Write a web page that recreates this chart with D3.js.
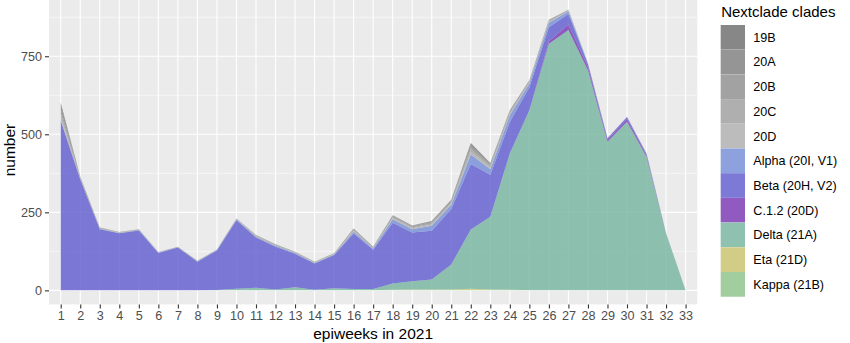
<!DOCTYPE html>
<html>
<head>
<meta charset="utf-8">
<script src="https://cdn.jsdelivr.net/npm/d3@7"></script>
<style>
  html, body { margin: 0; padding: 0; background: #ffffff; }
  svg { display: block; font-family: "Liberation Sans", Arial, Helvetica, sans-serif; }
</style>
</head>
<body>
<svg id="chart" width="850" height="343"></svg>
<script>
// Epidemiological weeks of 2021
const weeks = ["1","2","3","4","5","6","7","8","9","10","11","12","13","14","15","16","17",
               "18","19","20","21","22","23","24","25","26","27","28","29","30","31","32","33"];

// Legend order (top of the stack first)
const clades = ["19B","20A","20B","20C","20D","Alpha (20I, V1)","Beta (20H, V2)",
                "C.1.2 (20D)","Delta (21A)","Eta (21D)","Kappa (21B)"];

const cladeColors = ["#6b6b6b","#7d7d7d","#8d8d8d","#9d9d9d","#aeaeae","#728cd7","#5f5bcf",
                     "#7733b3","#76b4a0","#c8c36b","#8dc388"];

// Weekly sequence counts per clade
const c19B  = [6,1,0,0,0,0,0,0,0,0,0,0,0,0,0,1,1,1,1,1,1,4,1,1,1,1,0,0,0,0,0,0,0];
const c20A  = [14,1,1,1,1,0,0,1,0,0,1,1,1,1,1,2,1,2,2,3,3,7,4,3,1,1,1,0,0,0,0,0,0];
const c20B  = [13,2,1,0,1,1,1,0,1,1,1,2,1,1,1,2,1,3,3,4,4,8,4,3,2,2,1,0,0,0,0,0,0];
const c20C  = [10,1,1,1,0,0,1,0,0,1,1,1,1,1,1,2,1,3,3,3,4,8,5,4,3,3,2,1,0,0,0,0,0];
const c20D  = [12,2,1,1,1,1,0,1,1,1,2,1,1,1,1,3,2,4,3,4,4,10,6,5,3,3,2,1,1,1,1,0,0];
const alpha = [3,1,1,1,1,1,1,1,1,2,3,3,3,2,2,6,4,11,11,16,13,30,18,22,12,14,8,1,0,0,0,0,0];
const beta  = [543,356,196,183,192,120,137,92,127,220,161,137,107,84,106,178,126,195,156,156,178,210,134,100,74,45,33,10,5,7,5,1,0];
const c12   = [0,0,0,0,0,0,0,0,0,0,0,0,0,0,0,0,0,0,0,0,0,0,0,0,0,8,18,10,6,8,5,0,0];
const delta = [0,0,0,0,0,0,0,0,1,5,8,3,10,2,7,4,4,20,26,32,80,190,233,437,577,790,834,705,476,540,428,182,0];
const eta   = [0,0,0,0,0,0,0,0,0,0,0,0,0,0,0,0,0,1,2,2,2,3,2,1,0,0,0,0,0,0,0,0,0];
const kappa = [0,0,0,0,0,0,0,0,0,0,0,0,0,0,0,0,0,1,1,1,1,2,1,1,0,0,0,0,0,0,0,0,0];

const seriesByClade = {
  "19B": c19B, "20A": c20A, "20B": c20B, "20C": c20C, "20D": c20D,
  "Alpha (20I, V1)": alpha, "Beta (20H, V2)": beta, "C.1.2 (20D)": c12,
  "Delta (21A)": delta, "Eta (21D)": eta, "Kappa (21B)": kappa
};

const rows = weeks.map((w, i) => {
  const r = { week: w };
  clades.forEach(c => { r[c] = seriesByClade[c][i]; });
  return r;
});

// Stack from the bottom: last legend entry sits on the baseline
const stackKeys = clades.slice().reverse();
const stacked = d3.stack().keys(stackKeys)(rows);
const color = d3.scaleOrdinal().domain(clades).range(cladeColors);

const svg = d3.select("#chart");
const panel = { left: 49, right: 697.3, top: -4.3, bottom: 304.4 };

const x = d3.scalePoint().domain(weeks).range([panel.left, panel.right]).padding(0.6);
const yMax = d3.max(stacked[stacked.length - 1], d => d[1]);
const y = d3.scaleLinear()
  .domain([-0.05 * yMax, yMax * 1.05])
  .range([panel.bottom, panel.top]);

// Panel background
svg.append("rect")
  .attr("x", panel.left).attr("y", panel.top)
  .attr("width", panel.right - panel.left).attr("height", panel.bottom - panel.top)
  .attr("fill", "#ebebeb");

const grid = svg.append("g");
const majorY = [0, 250, 500, 750];
const minorY = [125, 375, 625, 875];
grid.selectAll(".minor").data(minorY).join("line")
  .attr("x1", panel.left).attr("x2", panel.right)
  .attr("y1", d => y(d)).attr("y2", d => y(d))
  .attr("stroke", "#ffffff").attr("stroke-width", 0.55);
grid.selectAll(".majorY").data(majorY).join("line")
  .attr("x1", panel.left).attr("x2", panel.right)
  .attr("y1", d => y(d)).attr("y2", d => y(d))
  .attr("stroke", "#ffffff").attr("stroke-width", 1.1);
grid.selectAll(".majorX").data(weeks).join("line")
  .attr("x1", d => x(d)).attr("x2", d => x(d))
  .attr("y1", panel.top).attr("y2", panel.bottom)
  .attr("stroke", "#ffffff").attr("stroke-width", 1.1);

// Stacked areas
const area = d3.area()
  .x(d => x(d.data.week))
  .y0(d => y(d[0]))
  .y1(d => y(d[1]));

svg.append("g").selectAll("path").data(stacked).join("path")
  .attr("d", area)
  .attr("fill", d => color(d.key))
  .attr("fill-opacity", 0.8);

// Axes
const yAxis = d3.axisLeft(y).tickValues(majorY).tickSize(4).tickPadding(3);
const gy = svg.append("g").attr("transform", `translate(${panel.left},0)`).call(yAxis);
gy.select(".domain").remove();
gy.selectAll(".tick line").attr("stroke", "#333333").attr("stroke-width", 1.1);
gy.selectAll(".tick text").attr("fill", "#4d4d4d").attr("font-size", "12.6px")
  .attr("font-family", "Liberation Sans, Arial, sans-serif");

const xAxis = d3.axisBottom(x).tickSize(4).tickPadding(3);
const gx = svg.append("g").attr("transform", `translate(0,${panel.bottom})`).call(xAxis);
gx.select(".domain").remove();
gx.selectAll(".tick line").attr("stroke", "#333333").attr("stroke-width", 1.1);
gx.selectAll(".tick text").attr("fill", "#4d4d4d").attr("font-size", "12.6px")
  .attr("font-family", "Liberation Sans, Arial, sans-serif");

// Axis titles
svg.append("text")
  .attr("x", (panel.left + panel.right) / 2).attr("y", 338.5)
  .attr("text-anchor", "middle").attr("font-size", "15.5px").attr("fill", "#000")
  .text("epiweeks in 2021");

svg.append("text")
  .attr("transform", `translate(14.5,${(panel.top + panel.bottom) / 2}) rotate(-90)`)
  .attr("text-anchor", "middle").attr("font-size", "15.5px").attr("fill", "#000")
  .text("number");

// Legend
const legend = svg.append("g").attr("transform", "translate(720.7,0)");
legend.append("text")
  .attr("x", 0.5).attr("y", 17).attr("font-size", "15px").attr("fill", "#000")
  .text("Nextclade clades");

const keyH = 24.7, keyW = 24.3, keyTop = 25;
const items = legend.selectAll(".item").data(clades).join("g")
  .attr("transform", (d, i) => `translate(0,${keyTop + i * keyH})`);
items.append("rect").attr("width", keyW).attr("height", keyH).attr("fill", "#f2f2f2");
items.append("rect").attr("width", keyW).attr("height", keyH)
  .attr("fill", d => color(d)).attr("fill-opacity", 0.8);
items.append("text")
  .attr("x", 32.6).attr("y", keyH / 2).attr("dy", "0.35em")
  .attr("font-size", "12.6px").attr("fill", "#000")
  .text(d => d);
</script>
</body>
</html>
